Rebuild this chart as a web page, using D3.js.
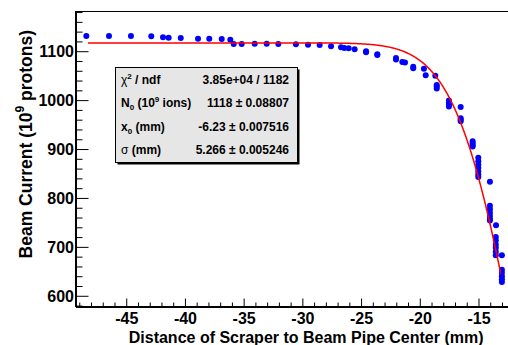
<!DOCTYPE html>
<html>
<head>
<meta charset="utf-8">
<script src="https://cdn.jsdelivr.net/npm/d3@7"></script>
<style>
  body { margin: 0; background: #fff; }
  svg { display: block; font-family: "Liberation Sans", Arial, sans-serif; }
</style>
</head>
<body>
<div id="chart"></div>
<script>
// scraper position (mm) vs beam current (1e9 protons)
const xVals = [
  -48.44, -46.51, -44.64, -42.91, -41.91, -41.43, -40.40, -38.93, -37.97, -36.91,
  -36.18, -35.89, -35.21, -34.10, -33.08, -32.09, -30.59, -29.56, -28.57, -27.60,
  -26.75, -26.47, -26.10, -25.59, -24.62, -24.62, -23.66, -23.66,
  -22.07, -22.07, -21.53, -21.30, -20.60, -20.60, -19.69, -19.54, -18.72,
  -18.60, -18.60, -18.60,
  -17.56, -17.56, -17.56, -17.56,
  -16.56, -16.56, -16.56, -16.56,
  -15.54, -15.54, -15.54, -15.54,
  -15.06, -15.06, -15.06, -15.06, -15.06, -15.06, -15.06,
  -14.07,
  -14.07, -14.07, -14.07, -14.07, -14.07, -14.07,
  -13.55,
  -13.57, -13.57, -13.57, -13.57, -13.57, -13.57,
  -13.05,
  -13.05, -13.05, -13.05, -13.05, -13.05
];
const yVals = [
  1132, 1132, 1132, 1131.5, 1129.4, 1128.6, 1128, 1126.6, 1126.6, 1126,
  1124.5, 1115.7, 1115.7, 1116.4, 1116.4, 1115.7, 1115.1, 1114.3, 1113.7, 1111,
  1109, 1107.6, 1106.9, 1104.9, 1101, 1099, 1095, 1093,
  1087, 1084, 1079, 1078, 1069, 1066, 1065, 1052, 1051,
  1032, 1029, 1025,
  1000, 996, 992, 988,
  987, 964, 961, 958,
  917, 913, 909, 906,
  883, 876, 869, 862, 855, 849, 844,
  834,
  785, 778, 771, 764, 758, 755,
  745,
  721, 714, 706, 699, 691, 684,
  684,
  654, 648, 641, 635, 629
];

// fit: N0 * (1 - exp(-(x - x0)^2 / (2 sigma^2)))
const fitPars = [1118, -6.23, 5.266];
const fitRange = [-48.3, -13.15];

const statNames = [
  [["χ", "n"], ["2", "sup"], [" / ndf", "n"]],
  [["N", "n"], ["0", "sub"], [" (10", "n"], ["9", "sup"], [" ions)", "n"]],
  [["x", "n"], ["0", "sub"], [" (mm)", "n"]],
  [["σ", "n"], [" (mm)", "n"]]
];
const statValues = ["3.85e+04 / 1182", "1118 ± 0.08807", "-6.23 ± 0.007516", "5.266 ± 0.005246"];

const xMajor = [-45, -40, -35, -30, -25, -20, -15];
const yMajor = [600, 700, 800, 900, 1000, 1100];

const width = 508, height = 345;
const margin = { left: 76, top: 11, right: 0, bottom: 38 };

const svg = d3.select("#chart").append("svg")
  .attr("width", width)
  .attr("height", height);

const x = d3.scaleLinear().domain([-49.32, -12.53]).range([margin.left, width - margin.right]);
const y = d3.scaleLinear().domain([578.1, 1183.2]).range([height - margin.bottom, margin.top]);

svg.append("clipPath").attr("id", "clip")
  .append("rect")
  .attr("x", margin.left).attr("y", margin.top)
  .attr("width", width - margin.left).attr("height", height - margin.bottom - margin.top);

// data points
svg.append("g")
  .attr("clip-path", "url(#clip)")
  .selectAll("circle")
  .data(xVals.map((v, i) => [v, yVals[i]]))
  .enter().append("circle")
  .attr("cx", d => x(d[0]))
  .attr("cy", d => y(d[1]))
  .attr("r", 3)
  .attr("fill", "#0000ff");

// fit curve
const fitFn = xx => fitPars[0] * (1 - Math.exp(-Math.pow(xx - fitPars[1], 2) / (2 * fitPars[2] * fitPars[2])));
const fitPts = d3.range(fitRange[0], fitRange[1], 0.05).concat([fitRange[1]]).map(v => [v, fitFn(v)]);
svg.append("path")
  .datum(fitPts)
  .attr("clip-path", "url(#clip)")
  .attr("fill", "none")
  .attr("stroke", "#ff0000")
  .attr("stroke-width", 1.5)
  .attr("d", d3.line().x(d => x(d[0])).y(d => y(d[1])));

// frame
svg.append("line")
  .attr("x1", margin.left).attr("x2", width)
  .attr("y1", margin.top + 0.5).attr("y2", margin.top + 0.5)
  .attr("stroke", "#000").attr("stroke-width", 1);

// x axis (ticks point up into the pad)
const xAxisG = svg.append("g").attr("transform", "translate(0," + (height - margin.bottom) + ")");
xAxisG.append("line")
  .attr("x1", margin.left).attr("x2", width)
  .attr("stroke", "#000").attr("stroke-width", 2);
xAxisG.selectAll(".xminor")
  .data(d3.range(-49, -12))
  .enter().append("line")
  .attr("x1", d => x(d)).attr("x2", d => x(d))
  .attr("y1", 0).attr("y2", d => xMajor.includes(d) ? -8.5 : -4.5)
  .attr("stroke", "#000").attr("stroke-width", 1);
xAxisG.selectAll(".xlab")
  .data(xMajor)
  .enter().append("text")
  .attr("x", d => x(d))
  .attr("y", 16.5)
  .attr("text-anchor", "middle")
  .attr("font-size", "16px")
  .attr("font-weight", "bold")
  .text(d => d);

// y axis (ticks point right)
const yAxisG = svg.append("g").attr("transform", "translate(" + margin.left + ",0)");
yAxisG.append("line")
  .attr("y1", margin.top).attr("y2", height - margin.bottom)
  .attr("stroke", "#000").attr("stroke-width", 2);
yAxisG.selectAll(".yminor")
  .data(d3.range(580, 1181, 20))
  .enter().append("line")
  .attr("y1", d => y(d)).attr("y2", d => y(d))
  .attr("x1", 0).attr("x2", d => yMajor.includes(d) ? 12.5 : 6.5)
  .attr("stroke", "#000").attr("stroke-width", 1);
yAxisG.selectAll(".ylab")
  .data(yMajor)
  .enter().append("text")
  .attr("x", -2)
  .attr("y", d => y(d) + 5.7)
  .attr("text-anchor", "end")
  .attr("font-size", "16px")
  .attr("font-weight", "bold")
  .text(d => d);

// axis titles
svg.append("text")
  .attr("x", 483.5).attr("y", 342.5)
  .attr("text-anchor", "end")
  .attr("font-size", "16px")
  .attr("font-weight", "bold")
  .text("Distance of Scraper to Beam Pipe Center (mm)");

const yTitle = svg.append("text")
  .attr("transform", "translate(31.5,30) rotate(-90)")
  .attr("text-anchor", "end")
  .attr("font-size", "17.5px")
  .attr("font-weight", "bold");
yTitle.append("tspan").text("Beam Current (10");
yTitle.append("tspan").attr("font-size", "12px").attr("dy", -7.5).text("9");
yTitle.append("tspan").attr("dy", 7.5).text(" protons)");

// stat box
const box = { x: 115.5, y: 67.5, w: 182, h: 95 };
svg.append("rect")
  .attr("x", box.x + 2).attr("y", box.y + 2)
  .attr("width", box.w).attr("height", box.h)
  .attr("fill", "#000");
svg.append("rect")
  .attr("x", box.x).attr("y", box.y)
  .attr("width", box.w).attr("height", box.h)
  .attr("fill", "#e6e6e6")
  .attr("stroke", "#000").attr("stroke-width", 1);

const rowY = [84.3, 107.3, 130.5, 153.5];
statNames.forEach((parts, i) => {
  const t = svg.append("text")
    .attr("x", 121).attr("y", rowY[i])
    .attr("font-size", "12px")
    .attr("font-weight", "bold");
  let shift = 0;
  parts.forEach(([s, kind]) => {
    const target = kind === "sup" ? -5 : kind === "sub" ? 3 : 0;
    const ts = t.append("tspan").attr("dy", target - shift).text(s);
    if (kind !== "n") ts.attr("font-size", "8px");
    if (s === "χ" || s === "σ") ts.attr("font-weight", "normal");
    shift = target;
  });
  svg.append("text")
    .attr("x", 289).attr("y", rowY[i])
    .attr("text-anchor", "end")
    .attr("font-size", "12px")
    .attr("font-weight", "bold")
    .text(statValues[i]);
});
</script>
</body>
</html>
